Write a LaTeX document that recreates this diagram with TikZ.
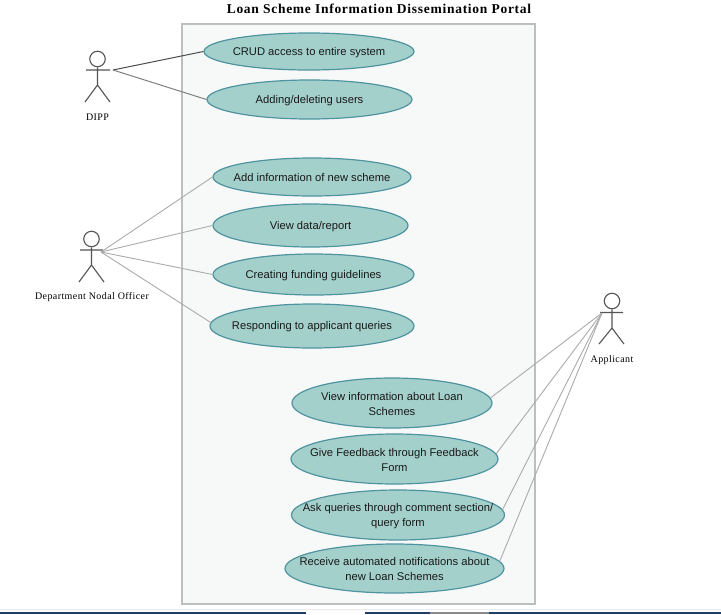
\documentclass[tikz,border=0pt]{standalone}
\usepackage{fontspec}
\setmainfont{Liberation Serif}
\newfontfamily\ucfont{Liberation Sans}
\usetikzlibrary{shapes.geometric}
\definecolor{ucfill}{HTML}{A4D0CB}
\definecolor{ucline}{HTML}{4F93A0}
\definecolor{boxfill}{HTML}{F7F9F8}
\definecolor{boxline}{HTML}{BDBFBD}
\definecolor{actline}{HTML}{555555}
\definecolor{barblue}{HTML}{1F3F66}
\tikzset{
  uc/.style={ellipse,draw=ucline,fill=ucfill,line width=1.2pt,inner sep=0pt},
  uctext/.style={align=center,inner sep=0pt,yshift=-0.6pt,font=\ucfont\fontsize{11.2}{15}\selectfont,text=black!90},
  actorline/.style={draw=actline,line width=1.1pt},
  lbl/.style={font=\fontsize{10}{12}\selectfont\addfontfeature{LetterSpace=4},text=black},
  darkc/.style={draw=black!70,line width=1pt},
  midc/.style={draw=black!50,line width=1pt},
  lightc/.style={draw=black!33,line width=0.9pt}
}
\begin{document}
\begin{tikzpicture}[x=1pt,y=-1pt]
\useasboundingbox (0,0) rectangle (721,614);
\fill[white] (0,0) rectangle (721,614);
% page furniture at the bottom
\fill[black!8] (0,609) rectangle (721,610);
\fill[barblue] (0,612) rectangle (721,614);
\fill[white] (306,612) rectangle (365,614);
\fill[black!45] (430,612) rectangle (489,614);
% system boundary
\node[draw=boxline,fill=boxfill,line width=1.2pt,minimum width=353pt,minimum height=580pt,inner sep=0pt] (sys) at (358.5,314) {};
\node[font=\bfseries\fontsize{13.5}{15}\selectfont\addfontfeature{LetterSpace=5.4},text=black] (title) at (379,9) {Loan Scheme Information Dissemination Portal};
% use cases
\node[uc,minimum width=210pt,minimum height=37pt,label={[uctext]center:CRUD access to entire system}] (u1) at (309,51.5) {};
\node[uc,minimum width=205pt,minimum height=39pt,label={[uctext]center:Adding/deleting users}] (u2) at (309.5,99.5) {};
\node[uc,minimum width=198pt,minimum height=38pt,label={[uctext]center:Add information of new scheme}] (u3) at (312,177) {};
\node[uc,minimum width=195pt,minimum height=43pt,label={[uctext]center:View data/report}] (u4) at (310.5,225.5) {};
\node[uc,minimum width=201pt,minimum height=41pt,label={[uctext]center:Creating funding guidelines}] (u5) at (313.5,274.5) {};
\node[uc,minimum width=204pt,minimum height=44pt,label={[uctext]center:Responding to applicant queries}] (u6) at (312,326) {};
\node[uc,minimum width=200pt,minimum height=50pt,label={[uctext]center:View information about Loan\\Schemes}] (u7) at (392,403) {};
\node[uc,minimum width=207pt,minimum height=50pt,label={[uctext]center:Give Feedback through Feedback\\Form}] (u8) at (394.5,459) {};
\node[uc,minimum width=213pt,minimum height=50pt,label={[uctext]center:Ask queries through comment section/\\query form}] (u9) at (398,515) {};
\node[uc,minimum width=219pt,minimum height=49pt,label={[uctext]center:Receive automated notifications about\\new Loan Schemes}] (u10) at (394.5,568.5) {};
% actors
\node[circle,draw=actline,line width=1.1pt,minimum size=15.5pt,inner sep=0pt] (a1) at (97.5,59) {};
\draw[actorline] (a1.south) -- (97.5,85) (86,70) -- (110,70) (85,102) -- (97.5,85) -- (110,102);
\coordinate (h1) at (113,70);
\node[lbl] (l1) at (97.5,117.5) {DIPP};
\node[circle,draw=actline,line width=1.1pt,minimum size=15.5pt,inner sep=0pt] (a2) at (91.5,239) {};
\draw[actorline] (a2.south) -- (91.5,265) (80,250) -- (103,250) (79,282) -- (91.5,265) -- (104,282);
\coordinate (h2) at (101,252);
\node[lbl] (l2) at (92,297.5) {Department Nodal Officer};
\node[circle,draw=actline,line width=1.1pt,minimum size=15.5pt,inner sep=0pt] (a3) at (612,301) {};
\draw[actorline] (a3.south) -- (612,328) (600,312.5) -- (623,312.5) (599,344) -- (612,328) -- (624,344);
\coordinate (h3) at (602,313);
\node[lbl] (l3) at (612,360.5) {Applicant};
% connectors
\draw[darkc] (h1) -- (u1.west);
\draw[midc] (h1) -- (u2.west);
\draw[lightc] (h2) -- (u3.west);
\draw[lightc] (h2) -- (u4.west);
\draw[lightc] (h2) -- (u5.west);
\draw[lightc] (h2) -- (u6.178);
\draw[lightc] (h3) -- (u7.3);
\draw[lightc] (h3) -- (u8.3);
\draw[lightc] (h3) -- (u9.3);
\draw[lightc] (h3) -- (u10.4);
\end{tikzpicture}
\end{document}
